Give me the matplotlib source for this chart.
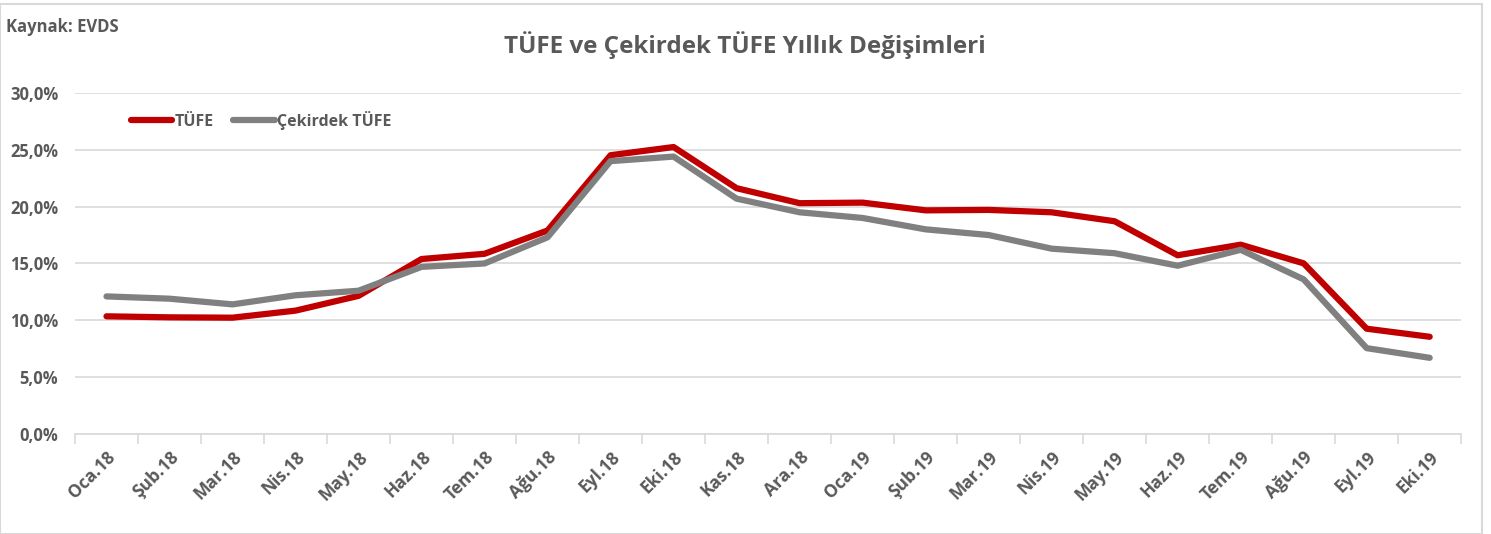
import matplotlib.pyplot as plt
from matplotlib.patches import Rectangle
from matplotlib.ticker import FuncFormatter

plt.rcParams['font.family'] = ['Open Sans', 'DejaVu Sans']

months = ['Oca.18', 'Şub.18', 'Mar.18', 'Nis.18', 'May.18', 'Haz.18', 'Tem.18',
          'Ağu.18', 'Eyl.18', 'Eki.18', 'Kas.18', 'Ara.18', 'Oca.19', 'Şub.19',
          'Mar.19', 'Nis.19', 'May.19', 'Haz.19', 'Tem.19', 'Ağu.19', 'Eyl.19', 'Eki.19']

tufe = [10.35, 10.26, 10.23, 10.85, 12.15, 15.39, 15.85, 17.90, 24.52, 25.24, 21.62,
        20.30, 20.35, 19.67, 19.71, 19.50, 18.71, 15.72, 16.65, 15.01, 9.26, 8.55]

cekirdek = [12.10, 11.90, 11.40, 12.20, 12.60, 14.70, 15.00, 17.30, 24.00, 24.40, 20.70,
            19.50, 19.00, 18.00, 17.50, 16.30, 15.90, 14.80, 16.20, 13.60, 7.55, 6.70]

txt = '#595959'

fig = plt.figure(figsize=(14.91, 5.34), dpi=100)
ax = fig.add_axes([0.0503, 0.1873, 0.9297, 0.6387])

x = range(len(months))
ax.plot(x, tufe, color='#c00000', lw=4.5, label='TÜFE', solid_capstyle='round')
ax.plot(x, cekirdek, color='#808080', lw=4.5, label='Çekirdek TÜFE', solid_capstyle='round')

ax.set_xlim(-0.5, len(months) - 0.5)
ax.set_ylim(0, 30)
ax.set_yticks(range(0, 31, 5))
ax.yaxis.set_major_formatter(FuncFormatter(lambda v, p: f'{v:.1f}%'.replace('.', ',')))
ax.grid(axis='y', color='#d9d9d9', lw=1.2)
ax.set_axisbelow(True)

ax.set_xticks(list(x))
ax.set_xticklabels(months, rotation=45, ha='right', rotation_mode='anchor',
                   fontsize=12.5, fontweight='bold', color=txt)
ax.set_xticks([i - 0.5 for i in range(len(months) + 1)], minor=True)
ax.tick_params(axis='x', which='major', length=0, pad=10)
ax.tick_params(axis='x', which='minor', length=7, color='#d9d9d9', width=1.2)
ax.tick_params(axis='y', length=0, labelsize=12, labelcolor=txt, pad=12)
for lab in ax.get_yticklabels():
    lab.set_fontweight('bold')

for s in ['top', 'right', 'left']:
    ax.spines[s].set_visible(False)
ax.spines['bottom'].set_color('#d9d9d9')
ax.spines['bottom'].set_linewidth(1.2)

leg = ax.legend(loc='upper left', bbox_to_anchor=(0.03, 0.99), ncol=2, frameon=False,
                handlelength=2.6, columnspacing=1.2, handletextpad=0.15,
                prop={'size': 11.5, 'weight': 'bold'})
for t in leg.get_texts():
    t.set_color(txt)

fig.text(0.4995, 0.915, 'TÜFE ve Çekirdek TÜFE Yıllık Değişimleri', ha='center', va='center',
         fontsize=17.5, fontweight='bold', color=txt)
fig.text(0.004, 0.95, 'Kaynak: EVDS', ha='left', va='center',
         fontsize=12, fontweight='bold', color=txt)

fig.patches.append(Rectangle((0.0, 0.0), 0.994, 0.992, transform=fig.transFigure,
                             fill=False, edgecolor='#d9d9d9', lw=1.5))

fig.savefig('out.png', dpi=100)
